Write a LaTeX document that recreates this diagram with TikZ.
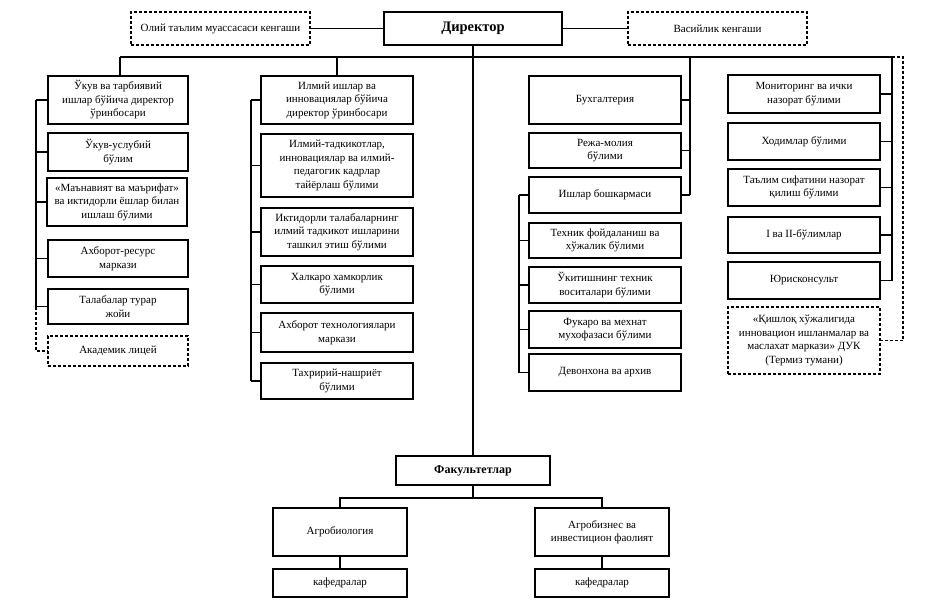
\documentclass[tikz,border=0pt]{standalone}
\usepackage{fontspec}
\setmainfont{Liberation Serif}
\newcommand\fs{\fontsize{11}{13.5}\selectfont}
\tikzset{
  box/.style={draw, line width=1.3pt, align=center, inner sep=1pt, font=\fs},
  dbox/.style={box, line width=1.1pt, dash pattern=on 3pt off 2pt},
  ln/.style={line width=1.3pt},
  dln/.style={line width=1.1pt, dash pattern=on 3pt off 2pt},
}
\newcommand\bx[7][]{\node[box,#1,minimum width={(#4-#3)*1pt},minimum height={(#6-#5)*1pt}] (#2) at ({(#3+#4)/2},{(#5+#6)/2+1}) {#7};}
\begin{document}
\begin{tikzpicture}[x=1pt,y=-1pt]
\useasboundingbox (0,0) rectangle (950,610);
% top row
\bx[dbox]{olij}{131}{310}{11}{44}{Олий таълим муассасаси кенгаши}
\bx[font=\fontsize{14.5}{16}\selectfont\bfseries]{dir}{384}{562}{11}{44}{Директор}
\bx[dbox]{vas}{628}{807}{11}{44}{Васийлик кенгаши}
% column 1
\bx{a1}{48}{188}{75}{123}{Ўкув ва тарбиявий\\ ишлар бўйича директор\\ ўринбосари}
\bx{a2}{48}{188}{132}{170}{Ўкув-услубий\\ бўлим}
\bx{a3}{47}{187}{177}{225}{«Маънавият ва маърифат»\\ ва иктидорли ёшлар билан\\ ишлаш бўлими}
\bx{a4}{48}{188}{239}{276}{Ахборот-ресурс\\ маркази}
\bx{a5}{48}{188}{288}{323}{Талабалар турар\\ жойи}
\bx[dbox]{a6}{48}{188}{335}{365}{Академик лицей}
% column 2
\bx{b1}{261}{413}{75}{123}{Илмий ишлар ва\\ инновациялар бўйича\\ директор ўринбосари}
\bx{b2}{261}{413}{133}{196}{Илмий-тадкикотлар,\\ инновациялар ва илмий-\\ педагогик кадрлар\\ тайёрлаш бўлими}
\bx{b3}{261}{413}{207}{255}{Иктидорли талабаларнинг\\ илмий тадкикот ишларини\\ ташкил этиш бўлими}
\bx{b4}{261}{413}{265}{302}{Халкаро хамкорлик\\ бўлими}
\bx{b5}{261}{413}{312}{351}{Ахборот технологиялари\\ маркази}
\bx{b6}{261}{413}{362}{398}{Тахририй-нашриёт\\ бўлими}
% column 3
\bx{c1}{529}{681}{75}{123}{Бухгалтерия}
\bx{c2}{529}{681}{132}{167}{Режа-молия\\ бўлими}
\bx{c3}{529}{681}{176}{212}{Ишлар бошкармаси}
\bx{c4}{529}{681}{222}{257}{Техник фойдаланиш ва\\ хўжалик бўлими}
\bx{c5}{529}{681}{266}{302}{Ўкитишнинг техник\\ воситалари бўлими}
\bx{c6}{529}{681}{310}{347}{Фукаро ва мехнат\\ мухофазаси бўлими}
\bx{c7}{529}{681}{353}{390}{Девонхона ва архив}
% column 4
\bx{d1}{728}{880}{74}{112}{Мониторинг ва ички\\ назорат бўлими}
\bx{d2}{728}{880}{122}{159}{Ходимлар бўлими}
\bx{d3}{728}{880}{168}{205}{Таълим сифатини назорат\\ қилиш бўлими}
\bx{d4}{728}{880}{216}{252}{I ва II-бўлимлар}
\bx{d5}{728}{880}{261}{298}{Юрисконсульт}
\bx[dbox]{d6}{728}{880}{306}{373}{«Қишлоқ хўжалигида\\ инновацион ишланмалар ва\\ маслахат маркази» ДУК\\ (Термиз тумани)}
% bottom
\bx[font=\fontsize{12}{14}\selectfont\bfseries]{fac}{396}{550}{455}{484}{Факультетлар}
\bx{g1}{273}{407}{507}{555}{Агробиология}
\bx{g2}{535}{669}{507}{555}{Агробизнес ва\\ инвестицион фаолият}
\bx{k1}{273}{407}{568}{596}{кафедралар}
\bx{k2}{535}{669}{568}{596}{кафедралар}
% connectors top
\draw[ln] (olij.east) -- (dir.west);
\draw[ln] (dir.east) -- (vas.west);
\coordinate (busL) at (120,57);
\coordinate (busR) at (892,57);
\coordinate (busD) at (903,57);
\draw[ln] (busL) -- (busR);
\draw[ln] (busL) -- (busL |- a1.north);
\draw[ln] (busL -| b1.north) -- (b1.north);
\draw[ln] (dir.south) -- (dir.south |- fac.north);
% column 1
\coordinate (lv1) at (36,0);
\draw[ln] (a1.west -| lv1) -- (a5.west -| lv1);
\foreach \n in {a1,a2,a3,a4,a5} \draw[ln] (\n.west) -- (\n.west -| lv1);
\draw[dln] (a5.west -| lv1) |- (a6.west);
% column 2
\coordinate (lv2) at (251,0);
\draw[ln] (b1.west -| lv2) -- (b6.west -| lv2);
\foreach \n in {b1,b2,b3,b4,b5,b6} \draw[ln] (\n.west) -- (\n.west -| lv2);
% column 3
\coordinate (rv3) at (690,57);
\draw[ln] (rv3) -- (rv3 |- c3.east);
\foreach \n in {c1,c2,c3} \draw[ln] (\n.east) -- (\n.east -| rv3);
\coordinate (lv3) at (519,0);
\draw[ln] (c3.west -| lv3) -- (c7.west -| lv3);
\foreach \n in {c3,c4,c5,c6,c7} \draw[ln] (\n.west) -- (\n.west -| lv3);
% column 4
\draw[ln] (busR) -- (busR |- d5.east);
\foreach \n in {d1,d2,d3,d4,d5} \draw[ln] (\n.east) -- (\n.east -| busR);
\draw[dln] (busR) -- (busD) |- (d6.east);
% bottom
\coordinate (fb) at (473,498);
\draw[ln] (fac.south) -- (fac.south |- fb);
\draw[ln] (g1.north) |- (fb) -| (g2.north);
\draw[ln] (g1.south) -- (k1.north);
\draw[ln] (g2.south) -- (k2.north);
\end{tikzpicture}
\end{document}
